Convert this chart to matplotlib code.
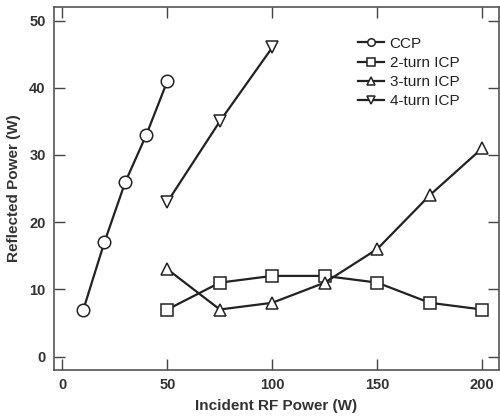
import matplotlib
matplotlib.use('Agg')
import matplotlib.pyplot as plt

# Reflected power vs incident RF power
ccp_x = [10, 20, 30, 40, 50]
ccp_y = [7, 17, 26, 33, 41]
icp2_x = [50, 75, 100, 125, 150, 175, 200]
icp2_y = [7, 11, 12, 12, 11, 8, 7]
icp3_x = [50, 75, 100, 125, 150, 175, 200]
icp3_y = [13, 7, 8, 11, 16, 24, 31]
icp4_x = [50, 75, 100]
icp4_y = [23, 35, 46]

plt.rcParams['font.family'] = ['Liberation Sans', 'DejaVu Sans']
plt.rcParams['font.weight'] = 'bold'

fig = plt.figure(figsize=(5, 4.19), dpi=100)
ax = fig.add_axes([0.108, 0.117, 0.89, 0.866])

kw = dict(color='#222222', lw=1.6, ms=9, mfc='white', mec='#222222', mew=1.1)
ax.plot(ccp_x, ccp_y, marker='o', label='CCP', **kw)
ax.plot(icp2_x, icp2_y, marker='s', label='2-turn ICP', **kw)
ax.plot(icp3_x, icp3_y, marker='^', label='3-turn ICP', **kw)
ax.plot(icp4_x, icp4_y, marker='v', label='4-turn ICP', **kw)

ax.set_xlim(-4, 208)
ax.set_ylim(-2, 52)
ax.set_xticks([0, 50, 100, 150, 200])
ax.set_yticks([0, 10, 20, 30, 40, 50])
ax.tick_params(direction='in', length=8, width=1, color='#444444', top=True, right=True,
               labelsize=10.5, labelcolor='#333333', pad=6)
for s in ax.spines.values():
    s.set_color('#555555')
    s.set_linewidth(1.2)

ax.set_xlabel('Incident RF Power (W)', fontsize=11, fontweight='bold', color='#333333', labelpad=5)
ax.set_ylabel('Reflected Power (W)', fontsize=11, fontweight='bold', color='#333333', labelpad=6)

leg = ax.legend(loc='upper left', bbox_to_anchor=(0.67, 0.935), frameon=False, fontsize=11,
                handlelength=1.7, handletextpad=0.35, labelspacing=0.33, markerscale=0.6,
                borderaxespad=0)
for t in leg.get_texts():
    t.set_color('#222222')
    t.set_fontweight('normal')

fig.savefig('out.png', dpi=100)
